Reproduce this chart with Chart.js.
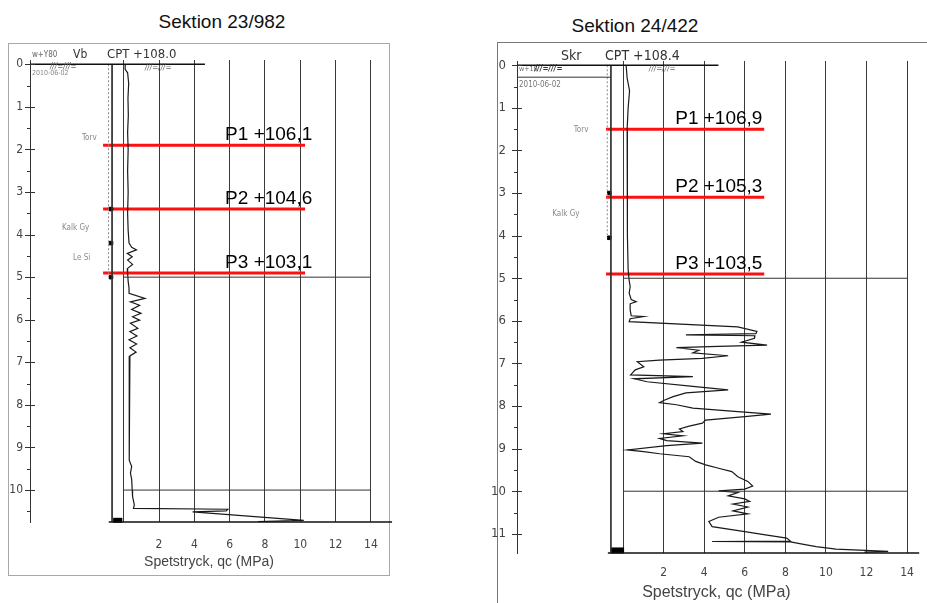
<!DOCTYPE html>
<html>
<head>
<meta charset="utf-8">
<script src="https://cdn.jsdelivr.net/npm/chart.js@4.4.0/dist/chart.umd.min.js"></script>
<style>
  body { margin: 0; background: #fff; width: 927px; height: 603px; overflow: hidden; position: relative;
         font-family: Arial, 'Liberation Sans', sans-serif; }
  .title { position: absolute; width: 200px; text-align: center; font-size: 19px; line-height: 19px; color: #111; }
  .frame { position: absolute; border: 1px solid #a8a8a8; }
  .plot { position: absolute; }
</style>
</head>
<body>
<div class="title" style="left:122px; top:12px;">Sektion 23/982</div>
<div class="title" style="left:535px; top:16px;">Sektion 24/422</div>
<div class="frame" style="left:8px; top:43px; width:380px; height:531px;"></div>
<div class="frame" style="left:497px; top:42px; width:440px; height:570px; border-color:#777;"></div>
<div class="plot" style="left:0px; top:40px;"><canvas id="cptA" width="400" height="540"></canvas></div>
<div class="plot" style="left:490px; top:40px;"><canvas id="cptB" width="437" height="563"></canvas></div>

<script>
// Sektion 23/982 - sondering CPT, marknivå +108,0
const groundA = 108.0;
const levelsA = [106.1, 104.6, 103.1];
const depthA = [0.00, 0.12, 0.20, 0.45, 0.80, 1.20, 1.60, 2.00, 2.50, 3.00, 3.50, 3.90, 4.20, 4.30, 4.36,
  4.44, 4.52, 4.60, 4.70, 4.80, 4.90, 5.10, 5.25, 5.38, 5.50, 5.58, 5.66, 5.76, 5.85, 5.93, 6.01, 6.08,
  6.20, 6.28, 6.38, 6.47, 6.57, 6.66, 6.76, 6.85, 6.97, 7.50, 8.00, 8.50, 9.00, 9.30, 9.45, 9.60, 9.75,
  10.00, 10.15, 10.35, 10.43, 10.45, 10.49, 10.51, 10.71, 10.74];
const qcA = [0.08, 0.08, 0.22, 0.28, 0.24, 0.26, 0.22, 0.25, 0.22, 0.25, 0.22, 0.25, 0.30, 0.45, 0.72,
  0.20, 0.48, 0.22, 0.50, 0.20, 0.22, 0.25, 0.30, 0.30, 1.20, 0.38, 0.90, 0.45, 0.98, 0.50, 0.90, 0.38,
  0.80, 0.35, 0.75, 0.30, 0.73, 0.35, 0.70, 0.35, 0.30, 0.30, 0.30, 0.32, 0.32, 0.33, 0.45, 0.38, 0.45,
  0.48, 0.50, 0.60, 0.55, 5.90, 5.80, 3.90, 10.20, 7.60];
const samplesA = [3.4, 4.2, 5.0];
const bottomA = 10.75;
const depthTicksA = [0, 1, 2, 3, 4, 5, 6, 7, 8, 9, 10];

// Sektion 24/422 - sondering CPT, marknivå +108,4
const groundB = 108.4;
const levelsB = [106.9, 105.3, 103.5];
const depthB = [0.00, 0.30, 0.60, 1.00, 1.50, 2.00, 3.00, 4.00, 4.80, 5.05, 5.20, 5.35, 5.50, 5.55, 5.60,
  5.75, 5.88, 5.90, 5.95, 6.02, 6.14, 6.25, 6.30, 6.33, 6.35, 6.41, 6.50, 6.57, 6.60, 6.63, 6.69, 6.75,
  6.82, 6.88, 6.92, 6.96, 7.08, 7.15, 7.27, 7.31, 7.36, 7.43, 7.54, 7.62, 7.69, 7.78, 7.87, 7.92, 7.97,
  8.05, 8.13, 8.19, 8.25, 8.33, 8.40, 8.47, 8.54, 8.60, 8.65, 8.70, 8.76, 8.81, 8.87, 8.93, 9.03, 9.07,
  9.12, 9.19, 9.30, 9.38, 9.46, 9.54, 9.66, 9.77, 9.88, 9.95, 9.99, 10.03, 10.11, 10.18, 10.24, 10.30,
  10.37, 10.46, 10.53, 10.61, 10.71, 10.83, 10.95, 11.03, 11.10, 11.17, 11.18, 11.19, 11.26, 11.30,
  11.36, 11.39, 11.41, 11.43];
const qcB = [0.15, 0.20, 0.32, 0.25, 0.20, 0.22, 0.20, 0.22, 0.25, 0.30, 0.35, 0.30, 0.40, 0.65, 0.35,
  0.35, 0.40, 1.02, 0.35, 0.30, 5.65, 6.60, 6.55, 3.10, 6.50, 6.48, 5.84, 7.10, 4.70, 2.63, 3.74, 3.44,
  5.18, 3.90, 1.80, 0.70, 1.02, 0.60, 0.37, 3.44, 0.54, 1.18, 3.44, 5.18, 3.10, 2.47, 2.00, 1.80, 2.63,
  3.44, 5.66, 7.29, 6.00, 4.07, 3.91, 3.26, 2.78, 2.95, 2.00, 2.95, 1.80, 2.15, 3.91, 2.15, 0.22, 1.02,
  1.80, 3.26, 3.58, 4.07, 4.71, 5.36, 5.66, 6.15, 6.39, 6.00, 4.71, 5.66, 5.18, 6.00, 6.24, 5.42,
  6.15, 5.42, 6.15, 4.71, 4.23, 4.39, 6.00, 7.10, 8.07, 8.25, 4.39, 8.25, 9.04, 9.52,
  10.50, 11.93, 13.07, 11.90];
const samplesB = [3.0, 4.05];
const bottomB = 11.45;
const depthTicksB = [0, 1, 2, 3, 4, 5, 6, 7, 8, 9, 10, 11];

const qcTicks = [0, 2, 4, 6, 8, 10, 12, 14];
const levelTags = ['P1', 'P2', 'P3'];

const drawFont = "'Liberation Sans Narrow', 'DejaVu Sans Condensed', 'Liberation Sans', sans-serif";

// depth ticks, handwritten-style notes and the red level tags
const drawingNotes = {
  id: 'drawingNotes',
  afterDatasetsDraw(chart, args, opts) {
    const { ctx, scales: { x, y } } = chart;
    const axisX = chart.chartArea.left;
    ctx.save();
    ctx.strokeStyle = '#333';
    ctx.lineWidth = 1;
    opts.depthTicks.forEach(d => {
      const py = Math.round(y.getPixelForValue(d)) + 0.5;
      ctx.beginPath(); ctx.moveTo(axisX - 5, py); ctx.lineTo(axisX + 5, py); ctx.stroke();
      if (d + 0.5 < y.max) {
        const hy = Math.round(y.getPixelForValue(d + 0.5)) + 0.5;
        ctx.beginPath(); ctx.moveTo(axisX - 3, hy); ctx.lineTo(axisX + 1, hy); ctx.stroke();
      }
    });

    ctx.textAlign = 'left';
    ctx.textBaseline = 'middle';
    opts.notes.forEach(n => {
      ctx.font = n.font;
      ctx.fillStyle = n.color || '#666';
      ctx.fillText(n.text, x.getPixelForValue(n.x), y.getPixelForValue(n.y));
    });

    ctx.font = opts.tagFont;
    ctx.fillStyle = '#000';
    ctx.textAlign = 'right';
    ctx.textBaseline = 'alphabetic';
    opts.levels.forEach((lv, i) => {
      const py = y.getPixelForValue(opts.ground - lv);
      const label = levelTags[i] + ' +' + lv.toFixed(1).replace('.', ',');
      ctx.fillText(label, x.getPixelForValue(opts.tagX), py - 5);
    });
    ctx.restore();
  }
};

// straight line piece in data units
function seg(x1, y1, x2, y2, width, color, dash) {
  return {
    data: [{ x: x1, y: y1 }, { x: x2, y: y2 }],
    showLine: true, borderColor: color || '#222', borderWidth: width || 1,
    borderDash: dash || [], pointRadius: 0, clip: false
  };
}

function buildSection(canvasId, s) {
  const datasets = s.frame.slice();

  datasets.push({
    data: s.samples.map(d => ({ x: s.sampleX, y: d })),
    pointStyle: 'rect', pointRadius: 2.5, backgroundColor: '#000', borderColor: '#000', clip: false
  });

  datasets.push({
    data: s.depth.map((d, i) => ({ x: s.qc[i], y: d })),
    showLine: true, borderColor: '#1a1a1a', borderWidth: 1.2, pointRadius: 0, tension: 0
  });

  s.levels.forEach(lv => {
    datasets.push(seg(s.redFrom, s.ground - lv, s.redTo, s.ground - lv, 3, '#ff1010'));
  });

  return new Chart(document.getElementById(canvasId), {
    type: 'scatter',
    data: { datasets: datasets },
    options: {
      responsive: false,
      animation: false,
      devicePixelRatio: 1,
      layout: { padding: s.padding },
      plugins: {
        legend: { display: false },
        tooltip: { enabled: false },
        drawingNotes: {
          depthTicks: s.depthTicks, notes: s.notes, levels: s.levels, ground: s.ground,
          tagX: s.tagX, tagFont: s.tagFont
        }
      },
      scales: {
        x: {
          type: 'linear', min: s.xMin, max: s.xMax,
          afterBuildTicks: sc => { sc.ticks = qcTicks.map(v => ({ value: v })); },
          afterFit: sc => { sc.height = s.xAxisHeight; },
          grid: { color: '#3a3a3a', lineWidth: 1, drawTicks: false },
          border: { display: false },
          ticks: {
            padding: s.xTickPad, color: '#444', maxRotation: 0, autoSkip: false,
            font: { family: drawFont, size: 12 },
            callback: v => (v === 0 ? '' : String(v))
          },
          title: {
            display: true, text: 'Spetstryck, qc (MPa)', color: '#444',
            font: { family: 'Liberation Sans, Arial, sans-serif', size: s.xTitleSize },
            padding: { top: 0, bottom: s.xTitlePad }
          }
        },
        y: {
          type: 'linear', reverse: true, min: -0.1, max: s.bottom,
          afterBuildTicks: sc => { sc.ticks = s.depthTicks.map(v => ({ value: v })); },
          afterFit: sc => { sc.width = s.yAxisWidth; },
          grid: { drawOnChartArea: false, drawTicks: false },
          border: { display: true, color: '#333', width: 1 },
          ticks: {
            padding: s.yTickPad, color: '#444', autoSkip: false,
            font: { family: drawFont, size: s.yTickSize },
            callback: v => String(v)
          }
        }
      }
    },
    plugins: [drawingNotes]
  });
}

const noteSmall = '8px ' + drawFont;

buildSection('cptA', {
  ground: groundA, levels: levelsA, depth: depthA, qc: qcA, samples: samplesA, bottom: bottomA,
  depthTicks: depthTicksA, sampleX: -0.72,
  xMin: -5.31, xMax: 14.97,
  padding: { top: 20, right: 12, left: 0, bottom: 0 },
  yAxisWidth: 30, yTickPad: 7, yTickSize: 12,
  xAxisHeight: 58, xTickPad: 16, xTitleSize: 14, xTitlePad: 9,
  redFrom: -1.17, redTo: 10.27, tagX: 10.68, tagFont: '19px Arial, "Liberation Sans", sans-serif',
  frame: [
    seg(-5.31, 0, 4.6, 0, 1.6, '#111'),
    seg(0, 5, 14, 5, 1, '#333'),
    seg(0, 10, 14, 10, 1, '#333'),
    seg(-0.85, bottomA, 15.2, bottomA, 1.6, '#111'),
    seg(-0.66, 0, -0.66, bottomA, 1, '#333'),
    seg(-0.86, 0, -0.86, 5.0, 1, '#888', [2, 2]),
    seg(-0.6, bottomA - 0.04, -0.08, bottomA - 0.04, 5, '#000')
  ],
  notes: [
    { text: 'w+Y80', x: -5.2, y: -0.22, font: noteSmall },
    { text: 'Vb', x: -2.87, y: -0.22, font: '12px ' + drawFont, color: '#333' },
    { text: 'CPT +' + groundA.toFixed(1), x: -0.95, y: -0.22, font: '13px ' + drawFont, color: '#333' },
    { text: '///=///=', x: -4.18, y: 0.06, font: 'italic ' + noteSmall },
    { text: '2010-06-02', x: -5.2, y: 0.2, font: '7px ' + drawFont, color: '#888' },
    { text: '///=///=', x: 1.2, y: 0.09, font: 'italic ' + noteSmall },
    { text: 'Torv', x: -2.36, y: 1.73, font: noteSmall, color: '#888' },
    { text: 'Kalk Gy', x: -3.5, y: 3.84, font: noteSmall, color: '#888' },
    { text: 'Le Si', x: -2.87, y: 4.55, font: noteSmall, color: '#888' }
  ]
});

buildSection('cptB', {
  ground: groundB, levels: levelsB, depth: depthB, qc: qcB, samples: samplesB, bottom: bottomB,
  depthTicks: depthTicksB, sampleX: -0.68,
  xMin: -5.23, xMax: 14.43,
  padding: { top: 21, right: 2, left: 0, bottom: 0 },
  yAxisWidth: 27, yTickPad: 11, yTickSize: 13,
  xAxisHeight: 50, xTickPad: 13, xTitleSize: 16, xTitlePad: 1,
  redFrom: -0.84, redTo: 6.96, tagX: 6.87, tagFont: '19px Arial, "Liberation Sans", sans-serif',
  frame: [
    seg(-5.23, 0, 4.7, 0, 1.6, '#111'),
    seg(-5.23, 0.28, -0.6, 0.28, 1, '#333'),
    seg(0, 5, 14, 5, 1, '#333'),
    seg(0, 10, 14, 10, 1, '#333'),
    seg(-0.75, bottomB, 14.6, bottomB, 1.6, '#111'),
    seg(-0.6, 0, -0.6, bottomB, 1, '#333'),
    seg(-0.78, 0, -0.78, 4.05, 1, '#888', [2, 2]),
    seg(-0.6, bottomB - 0.06, 0.05, bottomB - 0.06, 6, '#000')
  ],
  notes: [
    { text: 'Skr', x: -3.06, y: -0.22, font: '14px ' + drawFont, color: '#333' },
    { text: 'CPT +' + groundB.toFixed(1), x: -0.89, y: -0.22, font: '14px ' + drawFont, color: '#333' },
    { text: 'w+10', x: -5.13, y: 0.09, font: '7px ' + drawFont },
    { text: '///=///=', x: -4.36, y: 0.09, font: 'bold italic ' + noteSmall, color: '#333' },
    { text: '2010-06-02', x: -5.13, y: 0.46, font: noteSmall, color: '#777' },
    { text: '///=///=', x: 1.28, y: 0.09, font: 'italic ' + noteSmall },
    { text: 'Torv', x: -2.43, y: 1.52, font: noteSmall, color: '#888' },
    { text: 'Kalk Gy', x: -3.49, y: 3.49, font: noteSmall, color: '#888' }
  ]
});
</script>
</body>
</html>
